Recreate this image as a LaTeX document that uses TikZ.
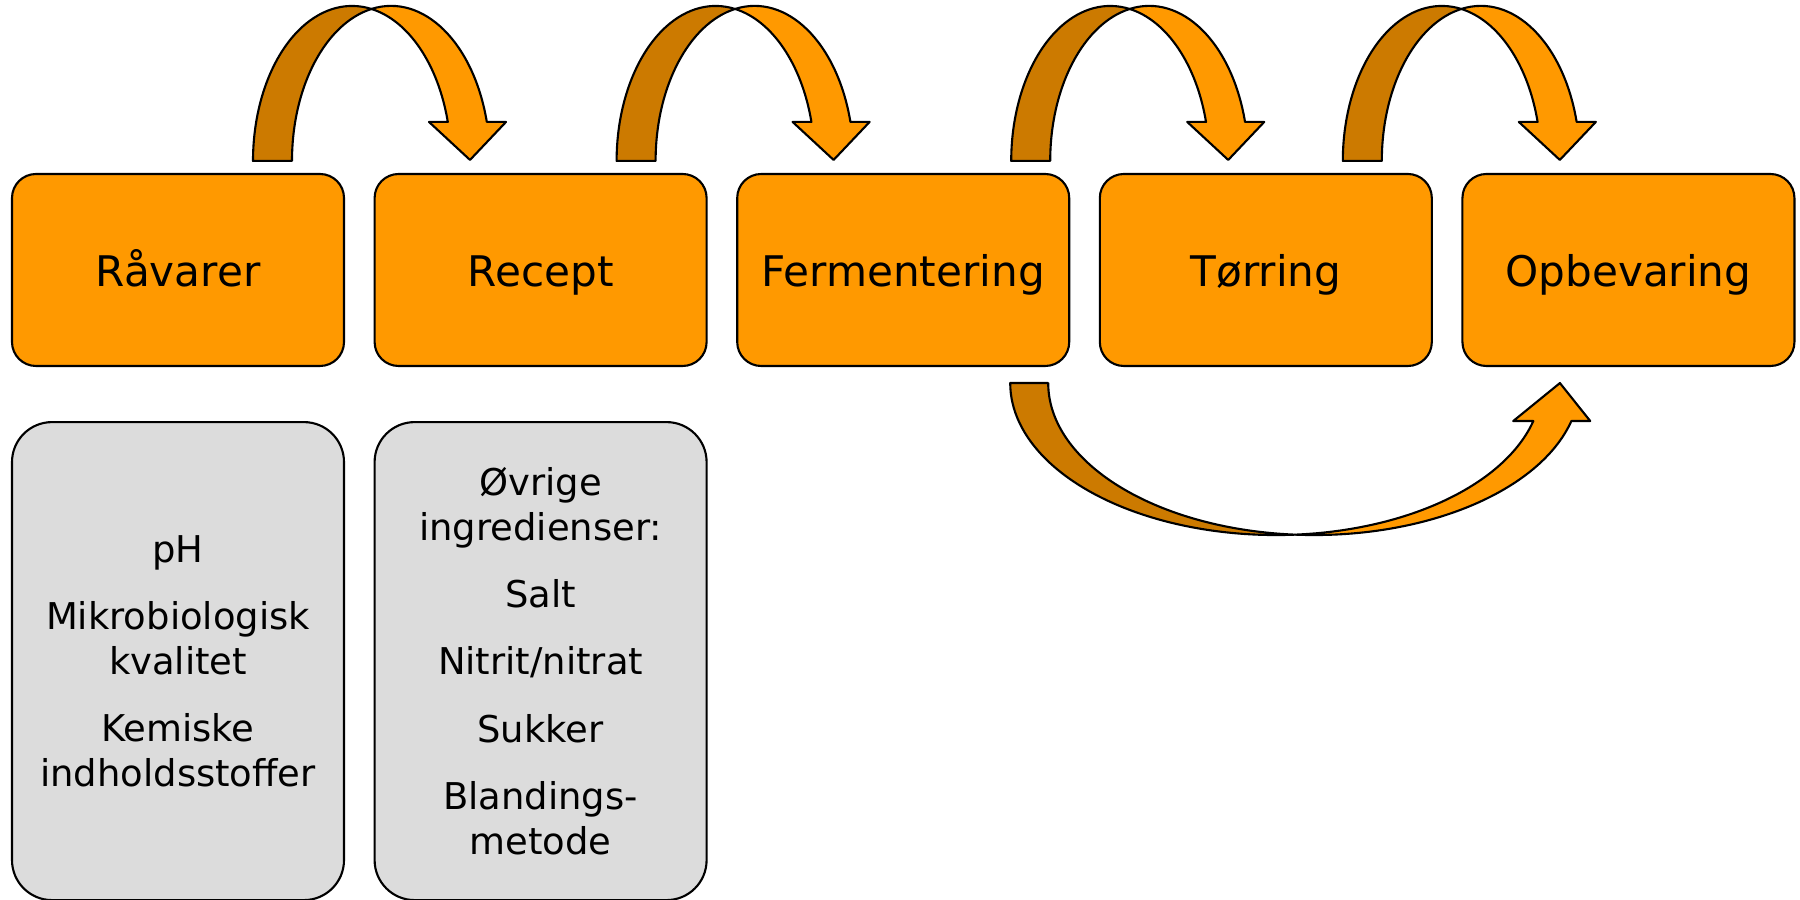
\documentclass[tikz,border=0pt]{standalone}
\usepackage{fontspec}
\setmainfont{DejaVu Sans}
\usetikzlibrary{calc,positioning}

\definecolor{procorange}{HTML}{FF9900}
\definecolor{procshade}{HTML}{CC7A00}
\definecolor{infogray}{HTML}{DCDCDC}

\tikzset{
	stage/.style={draw=black, line width=0.6pt, fill=procorange, rounded corners=2.4mm,
		minimum width=33.2mm, minimum height=19.2mm, text height=0.73em+2pt, text depth=0pt,
		font=\fontsize{12}{14}\selectfont},
	infobox/.style={draw=black, line width=0.6pt, fill=infogray, rounded corners=4mm,
		minimum width=33.2mm, minimum height=47.8mm, align=center,
		font=\fontsize{10.5}{12.8}\selectfont},
	band/.style={draw=black, line width=0.6pt, line join=round},
	% Bue-pil over to kasser (origo = venstre ben, yderkant)
	overarrow/.pic={
		\filldraw[band, fill=procshade] (0,0)
			arc[start angle=180, end angle=78.64, x radius=99, y radius=155]
			arc[start angle=101.36, end angle=180, x radius=99, y radius=155] -- cycle;
		\filldraw[band, fill=procorange] (118.5,152)
			arc[start angle=101.36, end angle=14.57, x radius=99, y radius=155]
			-- (253,39) -- (217,1) -- (176,39) -- (194.8,39)
			arc[start angle=14.57, end angle=78.64, x radius=99, y radius=155] -- cycle;
	},
	% Bue-pil under kasserne
	underarrow/.pic={
		\filldraw[band, fill=procshade] (0,0)
			arc[start angle=180, end angle=274.1, x radius=265.8, y radius=152]
			arc[start angle=265.9, end angle=180, x radius=265.8, y radius=152] -- cycle;
		\filldraw[band, fill=procorange] (284.8,-151.6)
			arc[start angle=265.9, end angle=345.52, x radius=265.8, y radius=152]
			-- (580,-38) -- (549.7,0) -- (503,-38) -- (523.1,-38)
			arc[start angle=345.52, end angle=274.1, x radius=265.8, y radius=152] -- cycle;
	},
}

\begin{document}
\begin{tikzpicture}[x=0.1mm, y=0.1mm, node distance=2.85mm]
	\useasboundingbox (0,0) rectangle (1800,900);
	% Procestrin
	\node[stage] (raa) at (178,630) {Råvarer};
	\node[stage, right=of raa] (rec) {Recept};
	\node[stage, right=of rec] (fer) {Fermentering};
	\node[stage, right=of fer] (tor) {Tørring};
	\node[stage, right=of tor] (opb) {Opbevaring};
	% Faktorer under de to første trin
	\node[infobox, below=5.4mm of raa] (raainfo)
		{pH\\[6.3pt] Mikrobiologisk\\kvalitet\\[6.3pt] Kemiske\\indholdsstoffer};
	\node[infobox, below=5.4mm of rec] (recinfo)
		{Øvrige\\ingredienser:\\[6.3pt] Salt\\[6.3pt] Nitrit/nitrat\\[6.3pt] Sukker\\[6.3pt] Blandings-\\metode};
	% Pile mellem trinene
	\foreach \s/\dx in {raa/75, rec/76, fer/108, tor/77}
		\pic at ($(\s.north)+(\dx,12)$) {overarrow};
	\pic at ($(fer.south)+(107,-16)$) {underarrow};
\end{tikzpicture}
\end{document}
